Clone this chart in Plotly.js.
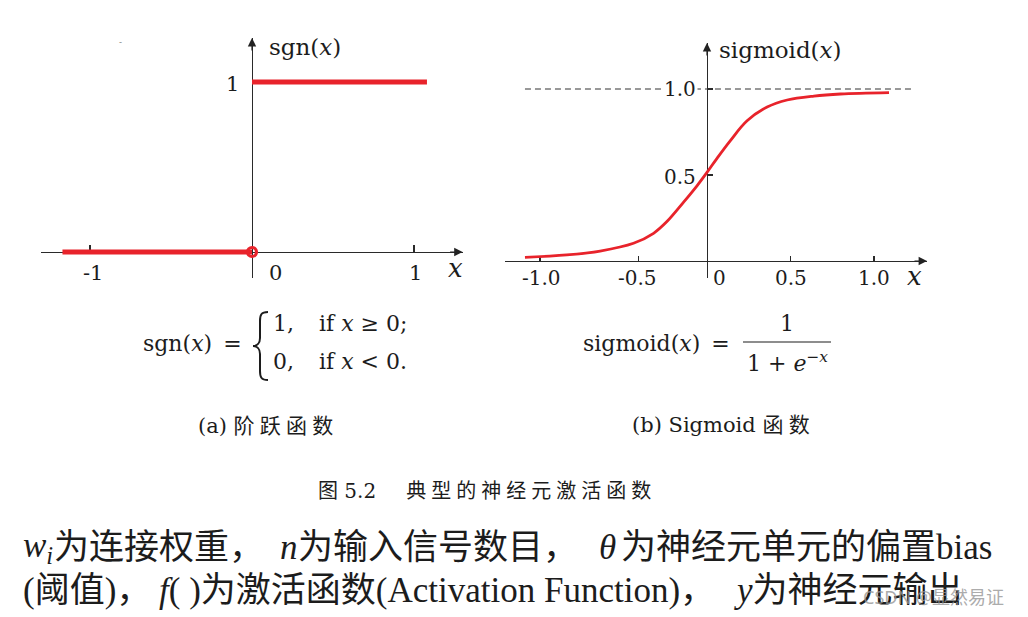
<!DOCTYPE html>
<html>
<head>
<meta charset="utf-8">
<script src="https://cdn.plot.ly/plotly-3.0.1.min.js"></script>
<style>html,body{margin:0;padding:0;background:#fff;}#chart{width:1028px;height:617px;}</style>
</head>
<body>
<div id="chart"></div>
<script>
// ---------- data ----------
// (a) step function sgn(x)
const stepUpperX = [0, 1.08];
const stepUpperY = [1, 1];
const stepLowerX = [-1.17, 0];
const stepLowerY = [0, 0];
const openPointX = [0];
const openPointY = [0];
const sgnXTickVals = [-1, 1];
const sgnXLabelVals = [-1, 0, 1];
const sgnXLabels = ['-1', '0', '1'];
const sgnYLabelVals = [1];
const sgnYLabels = ['1'];

// (b) sigmoid curve
const sigX = [-1.09, -0.84, -0.64, -0.44, -0.32, -0.24, -0.14, -0.06, 0.0, 0.06, 0.14, 0.24, 0.36, 0.48, 0.64, 0.80, 1.09];
const sigY = [0.021, 0.035, 0.058, 0.103, 0.161, 0.229, 0.342, 0.437, 0.515, 0.597, 0.700, 0.815, 0.895, 0.936, 0.959, 0.971, 0.979];
const asymptoteX = [-1.09, 1.23];
const asymptoteY = [1, 1];
const sigXTickVals = [-1, -0.41, 0.5, 1];
const sigXLabelVals = [-1, -0.41, 0, 0.5, 1];
const sigXLabels = ['-1.0', '-0.5', '0', '0.5', '1.0'];
const sigYTickVals = [0.5, 1];
const sigYLabels = ['0.5', '1.0'];

// text
const captionA = '(a) 阶跃函数';
const captionB = '(b) Sigmoid 函数';
const figCaption = '图 5.2  典型的神经元激活函数';

// ---------- layout helpers ----------
const W = 1028, H = 617;
const INK = '#1c1c1c';
const RED = '#e8232b';
const SERIF = '"DejaVu Serif", "Noto Sans CJK SC", serif';
const TIMES = '"Liberation Serif", "Noto Sans CJK SC", serif';
const pxX = v => v / W;
const pxY = v => 1 - v / H;

function T(x, y, text, size, o) {
  o = o || {};
  return {
    xref: 'paper', yref: 'paper', x: pxX(x), y: pxY(y), text: text, showarrow: false,
    xanchor: o.xanchor || 'center', yanchor: 'middle',
    bgcolor: o.bgcolor, borderpad: 0,
    font: {family: o.family || SERIF, size: size, color: o.color || INK}
  };
}
function spaced(s) { return s.split('').join('\u2005'); }

// axis geometry in pixels
const A = {x0: 252, sx: 162, y0: 252, sy: 170, left: 41.4, right: 462.6, top: 38, bottom: 278};
const B = {x0: 707, sx: 167, y0: 261, sy: 172, left: 505, right: 927, top: 43, bottom: 278};
function rngX(g) { return [(g.left - g.x0) / g.sx, (g.right - g.x0) / g.sx]; }
function rngY(g) { return [(g.y0 - g.bottom) / g.sy, (g.y0 - g.top) / g.sy]; }

const axBase = {showgrid: false, zeroline: false, showline: true, linecolor: '#2a2a2a', linewidth: 1.2,
  ticks: 'inside', tickcolor: '#2a2a2a', tickwidth: 1.2, showticklabels: false, fixedrange: true,
  anchor: 'free', layer: 'below traces'};

const layout = {
  width: W, height: H, margin: {l: 0, r: 0, t: 0, b: 0},
  paper_bgcolor: '#ffffff', plot_bgcolor: 'rgba(0,0,0,0)', showlegend: false,
  xaxis: Object.assign({}, axBase, {domain: [pxX(A.left), pxX(A.right)], range: rngX(A),
    position: pxY(A.y0), tickmode: 'array', tickvals: sgnXTickVals, ticklen: 7}),
  yaxis: Object.assign({}, axBase, {domain: [pxY(A.bottom), pxY(A.top)], range: rngY(A),
    position: pxX(A.x0), ticks: '', tickmode: 'array', tickvals: []}),
  xaxis2: Object.assign({}, axBase, {domain: [pxX(B.left), pxX(B.right)], range: rngX(B),
    position: pxY(B.y0), tickmode: 'array', tickvals: sigXTickVals, ticklen: 5}),
  yaxis2: Object.assign({}, axBase, {domain: [pxY(B.bottom), pxY(B.top)], range: rngY(B),
    position: pxX(B.x0), tickmode: 'array', tickvals: sigYTickVals, ticklen: 5, tickwidth: 1.8}),
  annotations: [],
  shapes: []
};

const traces = [
  {x: stepLowerX, y: stepLowerY, xaxis: 'x', yaxis: 'y', mode: 'lines', line: {color: RED, width: 5}, hoverinfo: 'skip'},
  {x: stepUpperX, y: stepUpperY, xaxis: 'x', yaxis: 'y', mode: 'lines', line: {color: RED, width: 5}, hoverinfo: 'skip'},
  {x: openPointX, y: openPointY, xaxis: 'x', yaxis: 'y', mode: 'markers', cliponaxis: false,
   marker: {symbol: 'circle-open', size: 9, color: RED, line: {color: RED, width: 3.2}}, hoverinfo: 'skip'},
  {x: asymptoteX, y: asymptoteY, xaxis: 'x2', yaxis: 'y2', mode: 'lines', line: {color: '#333', width: 1, dash: '6px,4px'}, hoverinfo: 'skip'},
  {x: sigX, y: sigY, xaxis: 'x2', yaxis: 'y2', mode: 'lines', line: {color: RED, width: 2.8, shape: 'spline', smoothing: 1}, hoverinfo: 'skip'}
];

const ann = layout.annotations;
// axis arrows
function arrow(xr, yr, x, y, ax, ay) {
  return {xref: xr, yref: yr, x: x, y: y, ax: ax, ay: ay, text: '', showarrow: true,
    arrowhead: 2, arrowsize: 1.4, arrowwidth: 1.2, arrowcolor: '#222', standoff: 0};
}
ann.push(arrow('x', 'y', rngX(A)[1], 0, -14, 0));
ann.push(arrow('x', 'y', 0, rngY(A)[1], 0, 14));
ann.push(arrow('x2', 'y2', rngX(B)[1], 0, -14, 0));
ann.push(arrow('x2', 'y2', 0, rngY(B)[1], 0, 14));

// tick labels (a)
const sgnXShift = [3, 23, 1];
sgnXLabels.forEach((t, i) => ann.push({xref: 'x', yref: 'y', x: sgnXLabelVals[i], y: 0, text: t, showarrow: false,
  xshift: sgnXShift[i], yshift: -21, font: {family: SERIF, size: 21, color: INK}}));
sgnYLabels.forEach((t, i) => ann.push({xref: 'x', yref: 'y', x: 0, y: sgnYLabelVals[i], text: t, showarrow: false,
  xanchor: 'right', xshift: -11, yshift: -2, font: {family: SERIF, size: 21, color: INK}}));
// tick labels (b)
const sigXShift = [1, -1, 12, 0, 0];
sigXLabels.forEach((t, i) => ann.push({xref: 'x2', yref: 'y2', x: sigXLabelVals[i], y: 0, text: t, showarrow: false,
  xshift: sigXShift[i], yshift: -17, font: {family: SERIF, size: 20, color: INK}}));
sigYLabels.forEach((t, i) => ann.push({xref: 'x2', yref: 'y2', x: 0, y: sigYTickVals[i], text: t, showarrow: false,
  xanchor: 'right', xshift: -9, yshift: (i === 0 ? -2 : 0), bgcolor: (i === 1 ? '#ffffff' : 'rgba(0,0,0,0)'), borderpad: 1,
  font: {family: SERIF, size: 20, color: INK}}));

// axis titles
ann.push(T(268, 47, 'sgn(<i>x</i>)', 23, {xanchor: 'left'}));
ann.push(T(455, 268, '<i>x</i>', 26));
ann.push(T(718, 50, 'sigmoid(<i>x</i>)', 23, {xanchor: 'left'}));
ann.push(T(914, 276, '<i>x</i>', 26));

// formula (a)
ann.push(T(142, 343, 'sgn(<i>x</i>)\u2002=', 22, {xanchor: 'left'}));
ann.push(T(272, 324, '1,', 22, {xanchor: 'left'}));
ann.push(T(318, 324, 'if <i>x</i> ≥ 0;', 22, {xanchor: 'left'}));
ann.push(T(272, 361, '0,', 22, {xanchor: 'left'}));
ann.push(T(318, 361, 'if <i>x</i> &lt; 0.', 22, {xanchor: 'left'}));
function P(x, y) { return pxX(x).toFixed(5) + ',' + pxY(y).toFixed(5); }
layout.shapes.push({type: 'path', xref: 'paper', yref: 'paper', line: {color: INK, width: 2},
  path: 'M' + P(268, 312) + ' C' + P(261, 312) + ' ' + P(260, 315) + ' ' + P(260, 321) +
        ' L' + P(260, 338) + ' C' + P(260, 343) + ' ' + P(257, 346) + ' ' + P(253, 346) +
        ' C' + P(257, 346) + ' ' + P(260, 349) + ' ' + P(260, 354) +
        ' L' + P(260, 371) + ' C' + P(260, 377) + ' ' + P(261, 380) + ' ' + P(268, 380)});

// formula (b)
ann.push(T(582, 343, 'sigmoid(<i>x</i>)\u2002=', 22, {xanchor: 'left'}));
ann.push(T(787, 323, '1', 22));
ann.push(T(787, 362, '1 + <i>e</i><sup>−<i>x</i></sup>', 22));
layout.shapes.push({type: 'line', xref: 'paper', yref: 'paper', x0: pxX(743), x1: pxX(831), y0: pxY(342), y1: pxY(342),
  line: {color: INK, width: 1.2}});

// captions
ann.push(T(197, 426, captionA.slice(0, 3) + ' ' + spaced(captionA.slice(4)), 21, {xanchor: 'left'}));
ann.push(T(631, 425, captionB.slice(0, 11) + ' ' + spaced(captionB.slice(12)), 21, {xanchor: 'left'}));
ann.push(T(317, 491, spaced(figCaption.slice(0, 1)) + ' 5.2\u2003\u2002' + spaced(figCaption.slice(7)), 20, {xanchor: 'left'}));

// bottom explanatory text
const BF = 35;
ann.push(T(22, 547, '<i>w</i><sub><i>i</i></sub>', BF, {xanchor: 'left', family: TIMES}));
ann.push(T(53, 547, '为连接权重，', BF, {xanchor: 'left', family: TIMES}));
ann.push(T(279, 547, '<i>n</i>', BF, {xanchor: 'left', family: TIMES}));
ann.push(T(297, 547, '为输入信号数目，', BF, {xanchor: 'left', family: TIMES}));
ann.push(T(598, 547, '<i>θ</i>', BF, {xanchor: 'left', family: TIMES}));
ann.push(T(620, 547, '为神经元单元的偏置bias', BF, {xanchor: 'left', family: TIMES}));
ann.push(T(22, 590, '(阈值)，', BF, {xanchor: 'left', family: TIMES}));
ann.push(T(158, 590, '<i>f</i>( )为激活函数(Activation Function)，', BF, {xanchor: 'left', family: TIMES}));
ann.push(T(733, 590, '<i>y</i>为神经元输出', BF, {xanchor: 'left', family: TIMES}));

// watermark and stray mark
ann.push(T(862, 597, 'CSDN @显然易证', 18, {xanchor: 'left', family: '"Noto Sans", "Noto Sans CJK SC", sans-serif', color: 'rgba(150,150,150,0.8)'}));
ann.push(T(120, 42, '-', 9, {color: '#888'}));

Plotly.newPlot('chart', traces, layout, {staticPlot: true, displayModeBar: false});
</script>
</body>
</html>
